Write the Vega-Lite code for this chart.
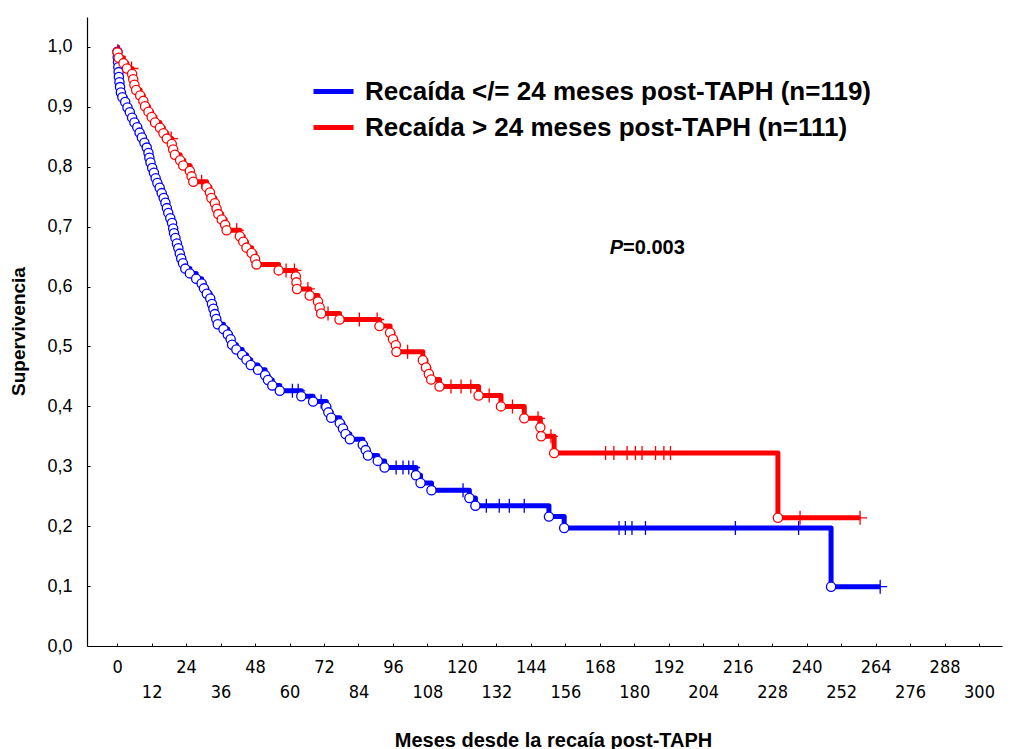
{
  "$schema": "https://vega.github.io/schema/vega-lite/v6.json",
  "width": 915,
  "height": 629,
  "autosize": {"type": "none"},
  "padding": {"left": 87, "top": 17, "right": 9, "bottom": 103},
  "background": "white",
  "config": {
    "view": {"stroke": null},
    "axis": {"grid": false, "domainColor": "black", "tickColor": "black", "labelColor": "black", "titleColor": "black"}
  },
  "datasets": {
    "km": [
      {"g": "a", "t": 0, "s": 1, "k": "ini"},
      {"g": "a", "t": 0.1, "s": 0.992, "k": "ev"},
      {"g": "a", "t": 0.2, "s": 0.983, "k": "ev"},
      {"g": "a", "t": 0.3, "s": 0.975, "k": "ev"},
      {"g": "a", "t": 0.4, "s": 0.966, "k": "ev"},
      {"g": "a", "t": 0.5, "s": 0.958, "k": "ev"},
      {"g": "a", "t": 0.6, "s": 0.95, "k": "ev"},
      {"g": "a", "t": 0.8, "s": 0.941, "k": "ev"},
      {"g": "a", "t": 1.0, "s": 0.933, "k": "ev"},
      {"g": "a", "t": 1.3, "s": 0.924, "k": "ev"},
      {"g": "a", "t": 1.8, "s": 0.916, "k": "ev"},
      {"g": "a", "t": 2.8, "s": 0.908, "k": "ev"},
      {"g": "a", "t": 3.6, "s": 0.899, "k": "ev"},
      {"g": "a", "t": 4.4, "s": 0.891, "k": "ev"},
      {"g": "a", "t": 5.2, "s": 0.882, "k": "ev"},
      {"g": "a", "t": 6.0, "s": 0.874, "k": "ev"},
      {"g": "a", "t": 7.0, "s": 0.866, "k": "ev"},
      {"g": "a", "t": 7.8, "s": 0.857, "k": "ev"},
      {"g": "a", "t": 8.6, "s": 0.849, "k": "ev"},
      {"g": "a", "t": 9.5, "s": 0.84, "k": "ev"},
      {"g": "a", "t": 10.3, "s": 0.832, "k": "ev"},
      {"g": "a", "t": 10.9, "s": 0.823, "k": "ev"},
      {"g": "a", "t": 11.2, "s": 0.815, "k": "ev"},
      {"g": "a", "t": 11.6, "s": 0.807, "k": "ev"},
      {"g": "a", "t": 12.2, "s": 0.798, "k": "ev"},
      {"g": "a", "t": 12.8, "s": 0.79, "k": "ev"},
      {"g": "a", "t": 13.4, "s": 0.781, "k": "ev"},
      {"g": "a", "t": 14.0, "s": 0.773, "k": "ev"},
      {"g": "a", "t": 14.8, "s": 0.765, "k": "ev"},
      {"g": "a", "t": 15.5, "s": 0.756, "k": "ev"},
      {"g": "a", "t": 16.2, "s": 0.748, "k": "ev"},
      {"g": "a", "t": 16.8, "s": 0.74, "k": "ev"},
      {"g": "a", "t": 17.3, "s": 0.731, "k": "ev"},
      {"g": "a", "t": 17.8, "s": 0.723, "k": "ev"},
      {"g": "a", "t": 18.5, "s": 0.714, "k": "ev"},
      {"g": "a", "t": 19.1, "s": 0.706, "k": "ev"},
      {"g": "a", "t": 19.5, "s": 0.697, "k": "ev"},
      {"g": "a", "t": 19.8, "s": 0.689, "k": "ev"},
      {"g": "a", "t": 20.3, "s": 0.681, "k": "ev"},
      {"g": "a", "t": 20.8, "s": 0.672, "k": "ev"},
      {"g": "a", "t": 21.3, "s": 0.664, "k": "ev"},
      {"g": "a", "t": 21.8, "s": 0.655, "k": "ev"},
      {"g": "a", "t": 22.3, "s": 0.647, "k": "ev"},
      {"g": "a", "t": 22.9, "s": 0.639, "k": "ev"},
      {"g": "a", "t": 23.7, "s": 0.63, "k": "ev"},
      {"g": "a", "t": 25.3, "s": 0.622, "k": "ev"},
      {"g": "a", "t": 27.5, "s": 0.613, "k": "ev"},
      {"g": "a", "t": 29.4, "s": 0.605, "k": "ev"},
      {"g": "a", "t": 30.2, "s": 0.597, "k": "ev"},
      {"g": "a", "t": 31.2, "s": 0.588, "k": "ev"},
      {"g": "a", "t": 32.4, "s": 0.58, "k": "ev"},
      {"g": "a", "t": 33.0, "s": 0.571, "k": "ev"},
      {"g": "a", "t": 33.5, "s": 0.563, "k": "ev"},
      {"g": "a", "t": 34.0, "s": 0.554, "k": "ev"},
      {"g": "a", "t": 34.5, "s": 0.546, "k": "ev"},
      {"g": "a", "t": 35.0, "s": 0.537, "k": "ev"},
      {"g": "a", "t": 37.0, "s": 0.529, "k": "ev"},
      {"g": "a", "t": 38.5, "s": 0.52, "k": "ev"},
      {"g": "a", "t": 39.5, "s": 0.512, "k": "ev"},
      {"g": "a", "t": 40.0, "s": 0.503, "k": "ev"},
      {"g": "a", "t": 41.5, "s": 0.495, "k": "ev"},
      {"g": "a", "t": 43.5, "s": 0.486, "k": "ev"},
      {"g": "a", "t": 45.0, "s": 0.478, "k": "ev"},
      {"g": "a", "t": 46.5, "s": 0.469, "k": "ev"},
      {"g": "a", "t": 49.0, "s": 0.461, "k": "ev"},
      {"g": "a", "t": 51.5, "s": 0.452, "k": "ev"},
      {"g": "a", "t": 52.5, "s": 0.444, "k": "ev"},
      {"g": "a", "t": 54.0, "s": 0.435, "k": "ev"},
      {"g": "a", "t": 56.6, "s": 0.426, "k": "ev"},
      {"g": "a", "t": 61.0, "s": 0.426, "k": "ce"},
      {"g": "a", "t": 63.0, "s": 0.426, "k": "ce"},
      {"g": "a", "t": 64.1, "s": 0.417, "k": "ev"},
      {"g": "a", "t": 68.2, "s": 0.408, "k": "ev"},
      {"g": "a", "t": 71.0, "s": 0.408, "k": "ce"},
      {"g": "a", "t": 72.8, "s": 0.399, "k": "ev"},
      {"g": "a", "t": 73.5, "s": 0.39, "k": "ev"},
      {"g": "a", "t": 74.5, "s": 0.381, "k": "ev"},
      {"g": "a", "t": 77.5, "s": 0.372, "k": "ev"},
      {"g": "a", "t": 78.6, "s": 0.363, "k": "ev"},
      {"g": "a", "t": 79.5, "s": 0.354, "k": "ev"},
      {"g": "a", "t": 81.0, "s": 0.345, "k": "ev"},
      {"g": "a", "t": 85.5, "s": 0.336, "k": "ev"},
      {"g": "a", "t": 86.5, "s": 0.327, "k": "ev"},
      {"g": "a", "t": 87.3, "s": 0.318, "k": "ev"},
      {"g": "a", "t": 90.7, "s": 0.309, "k": "ev"},
      {"g": "a", "t": 93.1, "s": 0.298, "k": "ev"},
      {"g": "a", "t": 97.1, "s": 0.298, "k": "ce"},
      {"g": "a", "t": 99.5, "s": 0.298, "k": "ce"},
      {"g": "a", "t": 101.5, "s": 0.298, "k": "ce"},
      {"g": "a", "t": 103.0, "s": 0.298, "k": "ce"},
      {"g": "a", "t": 104.0, "s": 0.285, "k": "ev"},
      {"g": "a", "t": 105.6, "s": 0.272, "k": "ev"},
      {"g": "a", "t": 109.4, "s": 0.26, "k": "ev"},
      {"g": "a", "t": 120.4, "s": 0.26, "k": "ce"},
      {"g": "a", "t": 122.6, "s": 0.247, "k": "ev"},
      {"g": "a", "t": 124.7, "s": 0.234, "k": "ev"},
      {"g": "a", "t": 128.5, "s": 0.234, "k": "ce"},
      {"g": "a", "t": 133.0, "s": 0.234, "k": "ce"},
      {"g": "a", "t": 136.5, "s": 0.234, "k": "ce"},
      {"g": "a", "t": 141.7, "s": 0.234, "k": "ce"},
      {"g": "a", "t": 150.3, "s": 0.216, "k": "ev"},
      {"g": "a", "t": 155.6, "s": 0.197, "k": "ev"},
      {"g": "a", "t": 174.7, "s": 0.197, "k": "ce"},
      {"g": "a", "t": 176.9, "s": 0.197, "k": "ce"},
      {"g": "a", "t": 179.2, "s": 0.197, "k": "ce"},
      {"g": "a", "t": 183.9, "s": 0.197, "k": "ce"},
      {"g": "a", "t": 215.2, "s": 0.197, "k": "ce"},
      {"g": "a", "t": 237.2, "s": 0.197, "k": "ce"},
      {"g": "a", "t": 248.5, "s": 0.099, "k": "ev"},
      {"g": "a", "t": 265.6, "s": 0.099, "k": "ce"},
      {"g": "b", "t": 0, "s": 1, "k": "ini"},
      {"g": "b", "t": 0.1, "s": 0.991, "k": "ev"},
      {"g": "b", "t": 0.5, "s": 0.982, "k": "ev"},
      {"g": "b", "t": 2.2, "s": 0.973, "k": "ev"},
      {"g": "b", "t": 3.4, "s": 0.964, "k": "ev"},
      {"g": "b", "t": 5.0, "s": 0.964, "k": "ce"},
      {"g": "b", "t": 5.2, "s": 0.955, "k": "ev"},
      {"g": "b", "t": 5.6, "s": 0.946, "k": "ev"},
      {"g": "b", "t": 6.0, "s": 0.937, "k": "ev"},
      {"g": "b", "t": 6.6, "s": 0.928, "k": "ev"},
      {"g": "b", "t": 8.0, "s": 0.919, "k": "ev"},
      {"g": "b", "t": 9.1, "s": 0.91, "k": "ev"},
      {"g": "b", "t": 9.7, "s": 0.901, "k": "ev"},
      {"g": "b", "t": 10.9, "s": 0.892, "k": "ev"},
      {"g": "b", "t": 12.0, "s": 0.883, "k": "ev"},
      {"g": "b", "t": 13.2, "s": 0.874, "k": "ev"},
      {"g": "b", "t": 14.9, "s": 0.865, "k": "ev"},
      {"g": "b", "t": 16.1, "s": 0.856, "k": "ev"},
      {"g": "b", "t": 17.3, "s": 0.847, "k": "ev"},
      {"g": "b", "t": 18.8, "s": 0.847, "k": "ce"},
      {"g": "b", "t": 19.0, "s": 0.838, "k": "ev"},
      {"g": "b", "t": 19.5, "s": 0.829, "k": "ev"},
      {"g": "b", "t": 20.1, "s": 0.82, "k": "ev"},
      {"g": "b", "t": 21.9, "s": 0.811, "k": "ev"},
      {"g": "b", "t": 23.0, "s": 0.802, "k": "ev"},
      {"g": "b", "t": 23.8, "s": 0.802, "k": "ce"},
      {"g": "b", "t": 25.3, "s": 0.793, "k": "ev"},
      {"g": "b", "t": 25.9, "s": 0.784, "k": "ev"},
      {"g": "b", "t": 26.5, "s": 0.775, "k": "ev"},
      {"g": "b", "t": 29.4, "s": 0.775, "k": "ce"},
      {"g": "b", "t": 31.1, "s": 0.766, "k": "ev"},
      {"g": "b", "t": 32.3, "s": 0.757, "k": "ev"},
      {"g": "b", "t": 32.8, "s": 0.748, "k": "ev"},
      {"g": "b", "t": 34.0, "s": 0.739, "k": "ev"},
      {"g": "b", "t": 34.6, "s": 0.73, "k": "ev"},
      {"g": "b", "t": 35.2, "s": 0.721, "k": "ev"},
      {"g": "b", "t": 36.4, "s": 0.712, "k": "ev"},
      {"g": "b", "t": 37.6, "s": 0.703, "k": "ev"},
      {"g": "b", "t": 38.1, "s": 0.694, "k": "ev"},
      {"g": "b", "t": 41.6, "s": 0.694, "k": "ce"},
      {"g": "b", "t": 42.7, "s": 0.684, "k": "ev"},
      {"g": "b", "t": 43.9, "s": 0.675, "k": "ev"},
      {"g": "b", "t": 45.0, "s": 0.665, "k": "ev"},
      {"g": "b", "t": 46.8, "s": 0.656, "k": "ev"},
      {"g": "b", "t": 48.0, "s": 0.646, "k": "ev"},
      {"g": "b", "t": 48.5, "s": 0.637, "k": "ev"},
      {"g": "b", "t": 56.2, "s": 0.627, "k": "ev"},
      {"g": "b", "t": 58.8, "s": 0.627, "k": "ce"},
      {"g": "b", "t": 61.7, "s": 0.627, "k": "ce"},
      {"g": "b", "t": 62.2, "s": 0.617, "k": "ev"},
      {"g": "b", "t": 62.4, "s": 0.607, "k": "ev"},
      {"g": "b", "t": 62.6, "s": 0.596, "k": "ev"},
      {"g": "b", "t": 66.4, "s": 0.596, "k": "ce"},
      {"g": "b", "t": 67.0, "s": 0.585, "k": "ev"},
      {"g": "b", "t": 69.9, "s": 0.575, "k": "ev"},
      {"g": "b", "t": 70.5, "s": 0.565, "k": "ev"},
      {"g": "b", "t": 71.0, "s": 0.555, "k": "ev"},
      {"g": "b", "t": 73.4, "s": 0.555, "k": "ce"},
      {"g": "b", "t": 77.4, "s": 0.545, "k": "ev"},
      {"g": "b", "t": 84.3, "s": 0.545, "k": "ce"},
      {"g": "b", "t": 90.5, "s": 0.545, "k": "ce"},
      {"g": "b", "t": 91.3, "s": 0.534, "k": "ev"},
      {"g": "b", "t": 95.0, "s": 0.523, "k": "ev"},
      {"g": "b", "t": 96.0, "s": 0.512, "k": "ev"},
      {"g": "b", "t": 97.0, "s": 0.502, "k": "ev"},
      {"g": "b", "t": 97.2, "s": 0.491, "k": "ev"},
      {"g": "b", "t": 101.1, "s": 0.491, "k": "ce"},
      {"g": "b", "t": 106.4, "s": 0.477, "k": "ev"},
      {"g": "b", "t": 107.5, "s": 0.465, "k": "ev"},
      {"g": "b", "t": 108.5, "s": 0.454, "k": "ev"},
      {"g": "b", "t": 109.3, "s": 0.445, "k": "ev"},
      {"g": "b", "t": 112.2, "s": 0.433, "k": "ev"},
      {"g": "b", "t": 116.2, "s": 0.433, "k": "ce"},
      {"g": "b", "t": 119.7, "s": 0.433, "k": "ce"},
      {"g": "b", "t": 123.1, "s": 0.433, "k": "ce"},
      {"g": "b", "t": 125.8, "s": 0.418, "k": "ev"},
      {"g": "b", "t": 129.5, "s": 0.418, "k": "ce"},
      {"g": "b", "t": 133.6, "s": 0.4, "k": "ev"},
      {"g": "b", "t": 137.6, "s": 0.4, "k": "ce"},
      {"g": "b", "t": 141.7, "s": 0.38, "k": "ev"},
      {"g": "b", "t": 146.5, "s": 0.38, "k": "ce"},
      {"g": "b", "t": 147.3, "s": 0.365, "k": "ev"},
      {"g": "b", "t": 147.6, "s": 0.35, "k": "ev"},
      {"g": "b", "t": 151.0, "s": 0.35, "k": "ce"},
      {"g": "b", "t": 152.1, "s": 0.322, "k": "ev"},
      {"g": "b", "t": 170.0, "s": 0.322, "k": "ce"},
      {"g": "b", "t": 172.9, "s": 0.322, "k": "ce"},
      {"g": "b", "t": 177.5, "s": 0.322, "k": "ce"},
      {"g": "b", "t": 180.4, "s": 0.322, "k": "ce"},
      {"g": "b", "t": 182.7, "s": 0.322, "k": "ce"},
      {"g": "b", "t": 187.4, "s": 0.322, "k": "ce"},
      {"g": "b", "t": 190.3, "s": 0.322, "k": "ce"},
      {"g": "b", "t": 192.6, "s": 0.322, "k": "ce"},
      {"g": "b", "t": 230.0, "s": 0.214, "k": "ev"},
      {"g": "b", "t": 237.7, "s": 0.214, "k": "ce"},
      {"g": "b", "t": 258.6, "s": 0.214, "k": "ce"}
    ],
    "notes": [
      {"t": 171.5, "s": 0.664, "txt": "P", "it": true},
      {"t": 176.1, "s": 0.664, "txt": "=0.003", "it": false}
    ]
  },
  "encoding": {
    "x": {
      "field": "t", "type": "quantitative",
      "scale": {"domain": [-10.5, 308], "nice": false, "zero": false},
      "axis": {
        "values": [0, 12, 24, 36, 48, 60, 72, 84, 96, 108, 120, 132, 144, 156, 168, 180, 192, 204, 216, 228, 240, 252, 264, 276, 288, 300],
        "title": "Meses desde la recaía post-TAPH",
        "titleFont": "Liberation Sans", "titleFontSize": 20, "titleFontWeight": "bold",
        "titleX": 466, "titleY": 94, "titleBaseline": "middle", "titleAlign": "center",
        "labelExpr": "datum.value % 24 == 0 ? [datum.label, ''] : ['', datum.label]",
        "labelFont": "DejaVu Sans Condensed, Liberation Sans", "labelFontSize": 18, "labelLineHeight": 25,
        "labelBaseline": "top", "labelPadding": 15, "labelOverlap": false, "labelFlush": false, "labelBound": false,
        "tickSize": -3, "tickWidth": 1, "domainWidth": 1.2
      }
    },
    "y": {
      "field": "s", "type": "quantitative",
      "scale": {"domain": [0, 1.05], "nice": false},
      "axis": {
        "values": [0, 0.1, 0.2, 0.3, 0.4, 0.5, 0.6, 0.7, 0.8, 0.9, 1.0],
        "labelExpr": "replace(format(datum.value, '.1f'), '.', ',')",
        "labelFont": "Liberation Sans", "labelFontSize": 18, "labelPadding": 18,
        "title": "Supervivencia",
        "titleFont": "Liberation Sans", "titleFontSize": 19, "titleFontWeight": "bold",
        "titleX": -69, "titleY": 314, "titleBaseline": "middle", "titleAlign": "center", "titleAngle": -90,
        "tickSize": -3, "tickWidth": 1, "domainWidth": 1.2
      }
    }
  },
  "layer": [
    {
      "data": {"name": "km"},
      "mark": {"type": "line", "interpolate": "step-after", "strokeWidth": 5, "strokeJoin": "round"},
      "encoding": {
        "detail": {"field": "g"},
        "color": {
          "field": "g", "type": "nominal",
          "scale": {"domain": ["a", "b"], "range": ["#0000FF", "#FF0000"]},
          "legend": {
            "orient": "none", "legendX": 224, "legendY": 52, "title": null, "padding": 0,
            "symbolType": "stroke", "symbolSize": 1600, "symbolStrokeWidth": 5,
            "labelFont": "Liberation Sans", "labelFontSize": 26, "labelFontWeight": "bold", "labelColor": "black",
            "labelOffset": 9, "labelLimit": 800, "rowPadding": -10,
            "labelExpr": "datum.value == 'a' ? 'Recaída </= 24 meses post-TAPH (n=119)' : 'Recaída > 24 meses post-TAPH  (n=111)'"
          }
        }
      }
    },
    {
      "data": {"name": "km"},
      "transform": [{"filter": "datum.k == 'ce'"}],
      "mark": {"type": "point", "shape": "M-1,0H1M0,-1V1", "size": 196, "filled": false, "strokeWidth": 1.3, "opacity": 1},
      "encoding": {
        "stroke": {"field": "g", "type": "nominal", "scale": {"domain": ["a", "b"], "range": ["#0000FF", "#FF0000"]}, "legend": null}
      }
    },
    {
      "data": {"name": "km"},
      "transform": [{"filter": "datum.k == 'ev'"}],
      "mark": {"type": "point", "shape": "circle", "size": 85, "filled": true, "fill": "white", "strokeWidth": 1.3, "opacity": 1},
      "encoding": {
        "stroke": {"field": "g", "type": "nominal", "scale": {"domain": ["a", "b"], "range": ["#0000FF", "#FF0000"]}, "legend": null}
      }
    },
    {
      "data": {"name": "notes"},
      "transform": [{"filter": "datum.it"}],
      "mark": {"type": "text", "align": "left", "baseline": "middle", "font": "Liberation Sans", "fontSize": 20, "fontWeight": "bold", "fontStyle": "italic", "color": "black"},
      "encoding": {"text": {"field": "txt"}}
    },
    {
      "data": {"name": "notes"},
      "transform": [{"filter": "!datum.it"}],
      "mark": {"type": "text", "align": "left", "baseline": "middle", "font": "Liberation Sans", "fontSize": 20, "fontWeight": "bold", "color": "black"},
      "encoding": {"text": {"field": "txt"}}
    }
  ]
}
